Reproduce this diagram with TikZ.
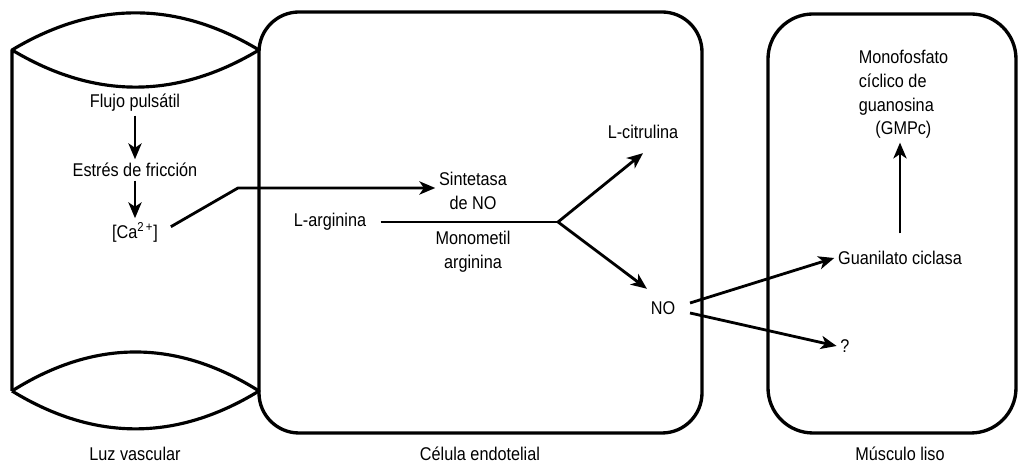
\documentclass[tikz,border=0pt]{standalone}
\usepackage{fontspec}
\setmainfont{Liberation Sans}[FakeStretch=0.88]
\usetikzlibrary{arrows.meta, positioning, calc}
\tikzset{
    txt/.style={font=\fontsize{10.5}{13.6}\selectfont, align=center, inner sep=2pt},
    arr/.style={-{Stealth[length=9pt, width=7.5pt, inset=2.5pt]}, line width=1.6pt},
    conn/.style={line width=1.6pt},
    cellbox/.style={line width=1.9pt, rounded corners=0.8cm},
    lens/.style={line width=1.8pt, line join=round}
}

\begin{document}
\begin{tikzpicture}[
        partlabel/.style={txt, inner sep=0pt, anchor=center}
    ]
    \useasboundingbox (0,0) rectangle (20.4,9.28);

    % luz vascular
    \draw[lens] (0.24,8.28) .. controls (1.89,9.27) and (3.53,9.27) .. (5.18,8.28)
        .. controls (3.53,7.29) and (1.89,7.29) .. (0.24,8.28) -- (0.24,1.46);
    \draw[lens] (0.24,1.46) .. controls (1.89,2.50) and (3.53,2.50) .. (5.18,1.46)
        .. controls (3.53,0.45) and (1.89,0.45) .. (0.24,1.46);

    % celulas
    \draw[cellbox] (5.18,0.62) rectangle (14.04,9.04);
    \draw[cellbox, rounded corners=0.9cm] (15.36,0.62) rectangle (20.32,9.0);

    \node[txt] (flujo) at (2.7,7.22) {Flujo pulsátil};
    \node[txt] (estres) at (2.7,5.88) {Estrés de fricción};
    \node[txt] (ca) at (2.7,4.64) {[Ca\textsuperscript{2\,+}]};
    \draw[arr] (flujo) -- (estres);
    \draw[arr] (estres) -- (ca);

    \node[txt] (sint) at (9.46,5.46) {Sintetasa\\de NO};
    \node[txt] (larg) at (6.6,4.84) {L-arginina};
    \node[txt] (mono) at (9.46,4.24) {Monometil\\arginina};
    \node[txt] (citr) at (12.86,6.64) {L-citrulina};
    \node[txt] (no) at (13.26,3.12) {NO};

    \coordinate (bend) at (4.76,5.52);
    \coordinate (fork) at (11.16,4.84);
    \draw[arr, shorten <=6pt] (ca.east) -- (bend) -- (bend -| sint.west);
    \draw[conn, shorten <=6pt] (larg.east) -- (fork);
    \draw[arr] (fork) -- ([yshift=-6pt]citr.south);
    \draw[arr] (fork) -- ([yshift=5pt]no.north west);

    \node[txt] (guan) at (18.0,4.12) {Guanilato ciclasa};
    \node[txt, align=left, anchor=north west] (gmp) at (17.1,8.36)
        {Monofosfato\\cíclico de\\guanosina\\\hspace{0.9em}(GMPc)};
    \node[txt] (quest) at (16.9,2.36) {?};

    \draw[arr] ([shift={(0.22,0.1)}]no.east) -- (guan.west);
    \draw[arr] ([shift={(0.22,-0.1)}]no.east) -- (quest.west);
    \draw[arr] ([yshift=8pt]guan.north) -- (guan.north |- gmp.south);

    \node[partlabel] (luz) at (2.7,0.2) {Luz vascular};
    \node[partlabel] (celula) at (9.6,0.2) {Célula endotelial};
    \node[partlabel] (musculo) at (18.0,0.2) {Músculo liso};
\end{tikzpicture}
\end{document}
